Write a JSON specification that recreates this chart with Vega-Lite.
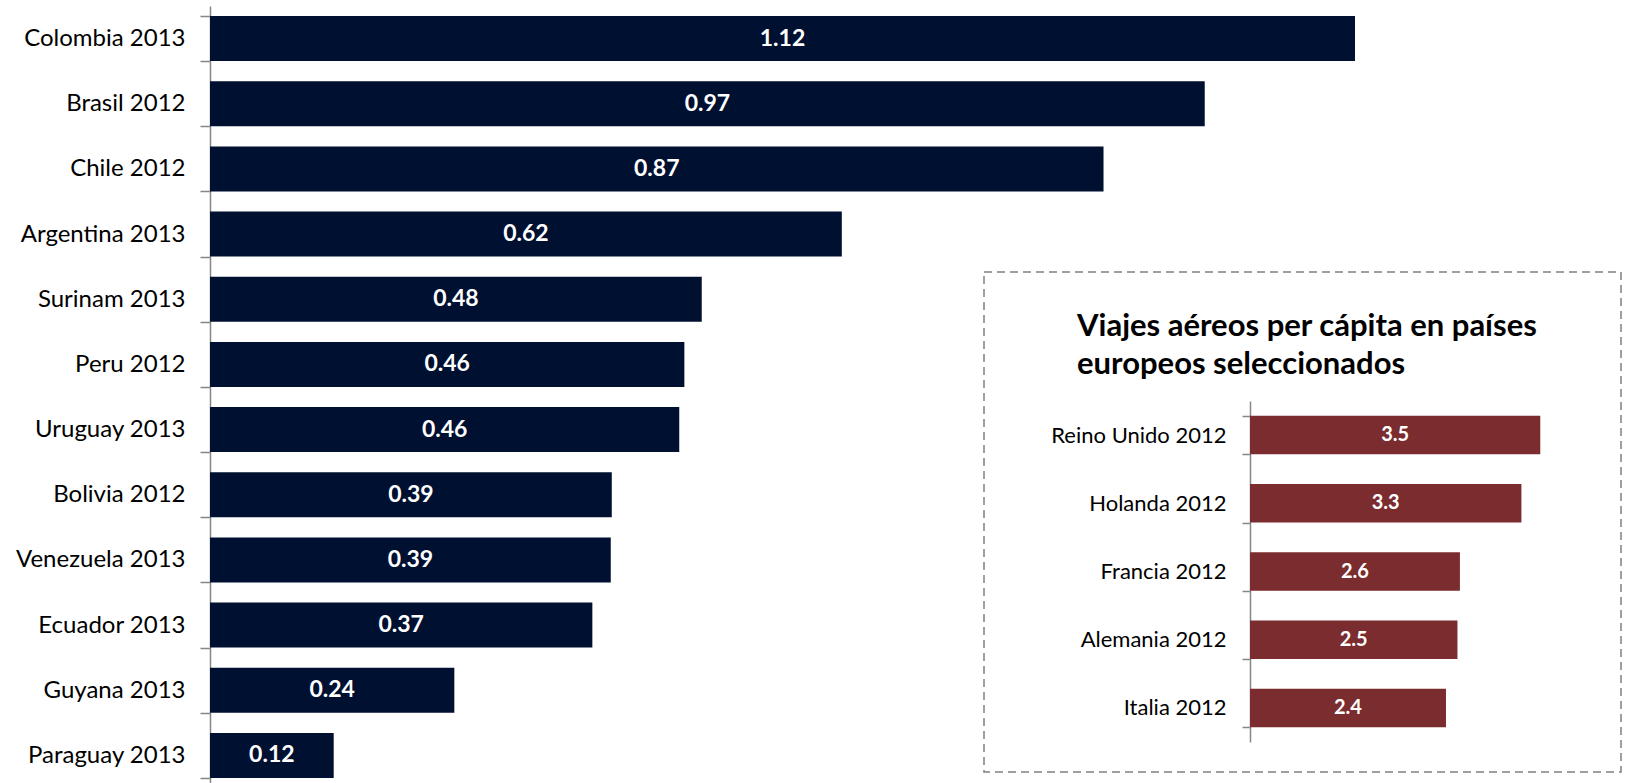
{
  "$schema": "https://vega.github.io/schema/vega-lite/v6.json",
  "width": 1419,
  "height": 782,
  "autosize": {"type": "none"},
  "padding": {"left": 210, "top": 6, "right": 0, "bottom": 0},
  "background": "white",
  "config": {"view": {"stroke": null}, "font": "Lato"},
  "datasets": {
    "latam": [
      {"pais": "Colombia 2013", "v": 1.12},
      {"pais": "Brasil 2012", "v": 0.973},
      {"pais": "Chile 2012", "v": 0.874},
      {"pais": "Argentina 2013", "v": 0.618},
      {"pais": "Surinam 2013", "v": 0.481},
      {"pais": "Peru 2012", "v": 0.464},
      {"pais": "Uruguay 2013", "v": 0.459},
      {"pais": "Bolivia 2012", "v": 0.393},
      {"pais": "Venezuela 2013", "v": 0.392},
      {"pais": "Ecuador 2013", "v": 0.374},
      {"pais": "Guyana 2013", "v": 0.239},
      {"pais": "Paraguay 2013", "v": 0.121}
    ],
    "europa": [
      {"pais": "Reino Unido 2012", "v": 3.54},
      {"pais": "Holanda 2012", "v": 3.31},
      {"pais": "Francia 2012", "v": 2.56},
      {"pais": "Alemania 2012", "v": 2.53},
      {"pais": "Italia 2012", "v": 2.39}
    ]
  },
  "layer": [
    {
      "data": {"name": "latam"},
      "transform": [{"calculate": "datum.v / 2", "as": "mid"}],
      "encoding": {
        "y": {
          "field": "pais", "type": "nominal", "sort": null,
          "scale": {"paddingInner": 0.31, "paddingOuter": 0.155},
          "axis": {
            "title": null, "orient": "left", "tickBand": "extent",
            "domainColor": "#868686", "domainWidth": 1.5,
            "tickColor": "#868686", "tickWidth": 1.5, "tickSize": 10,
            "labelFont": "Lato", "labelFontSize": 24, "labelColor": "#000000",
            "labelPadding": 15, "labelLimit": 400
          }
        }
      },
      "layer": [
        {
          "mark": {"type": "bar", "color": "#001030"},
          "encoding": {
            "x": {"field": "v", "type": "quantitative",
                  "scale": {"domain": [0, 1.388], "nice": false, "zero": true},
                  "axis": null}
          }
        },
        {
          "mark": {"type": "text", "color": "white", "font": "Lato", "fontWeight": "bold", "fontSize": 23, "align": "center", "baseline": "middle"},
          "encoding": {
            "x": {"field": "mid", "type": "quantitative"},
            "text": {"field": "v", "type": "quantitative", "format": ".2f"}
          }
        }
      ]
    },
    {
      "data": {"name": "europa"},
      "transform": [{"calculate": "datum.v / 2", "as": "mid"}],
      "encoding": {
        "y": {
          "field": "pais", "type": "nominal", "sort": null,
          "scale": {"range": [395, 736], "paddingInner": 0.435, "paddingOuter": 0.2175},
          "axis": {
            "title": null, "orient": "left", "offset": -1040, "tickBand": "extent",
            "domainColor": "#868686", "domainWidth": 1.5,
            "tickColor": "#868686", "tickWidth": 1.5, "tickSize": 8,
            "labelFont": "Lato", "labelFontSize": 22, "labelColor": "#000000",
            "labelPadding": 16, "labelLimit": 400
          }
        }
      },
      "layer": [
        {
          "mark": {"type": "bar", "color": "#7b2c2e"},
          "encoding": {
            "x": {"field": "v", "type": "quantitative",
                  "scale": {"domain": [0, 4], "range": [1040, 1368], "nice": false, "zero": true},
                  "axis": null}
          }
        },
        {
          "mark": {"type": "text", "color": "white", "font": "Lato", "fontWeight": "bold", "fontSize": 20, "align": "center", "baseline": "middle"},
          "encoding": {
            "x": {"field": "mid", "type": "quantitative"},
            "text": {"field": "v", "type": "quantitative", "format": ".1f"}
          }
        }
      ]
    },
    {
      "data": {"values": [{}]},
      "encoding": {
        "x": {"datum": 0, "type": "quantitative",
              "scale": {"domain": [0, 1], "range": [774, 1411], "nice": false, "zero": false},
              "axis": null},
        "y": {"datum": 0, "type": "quantitative",
              "scale": {"domain": [0, 1], "range": [266, 766], "nice": false, "zero": false},
              "axis": null}
      },
      "layer": [
        {
          "mark": {"type": "rect", "fill": null, "fillOpacity": 0, "stroke": "#808080", "strokeWidth": 1.5, "strokeDash": [8, 5]},
          "encoding": {
            "x2": {"datum": 1},
            "y2": {"datum": 1}
          }
        },
        {
          "mark": {"type": "text", "text": ["Viajes aéreos per cápita en países", "europeos seleccionados"],
                   "font": "Lato", "fontWeight": "bold", "fontSize": 31, "color": "#000000",
                   "align": "left", "baseline": "alphabetic", "lineHeight": 38},
          "encoding": {
            "x": {"datum": 0.146, "type": "quantitative"},
            "y": {"datum": 0.128, "type": "quantitative"}
          }
        }
      ]
    }
  ],
  "resolve": {
    "scale": {"x": "independent", "y": "independent"},
    "axis": {"x": "independent", "y": "independent"}
  }
}
